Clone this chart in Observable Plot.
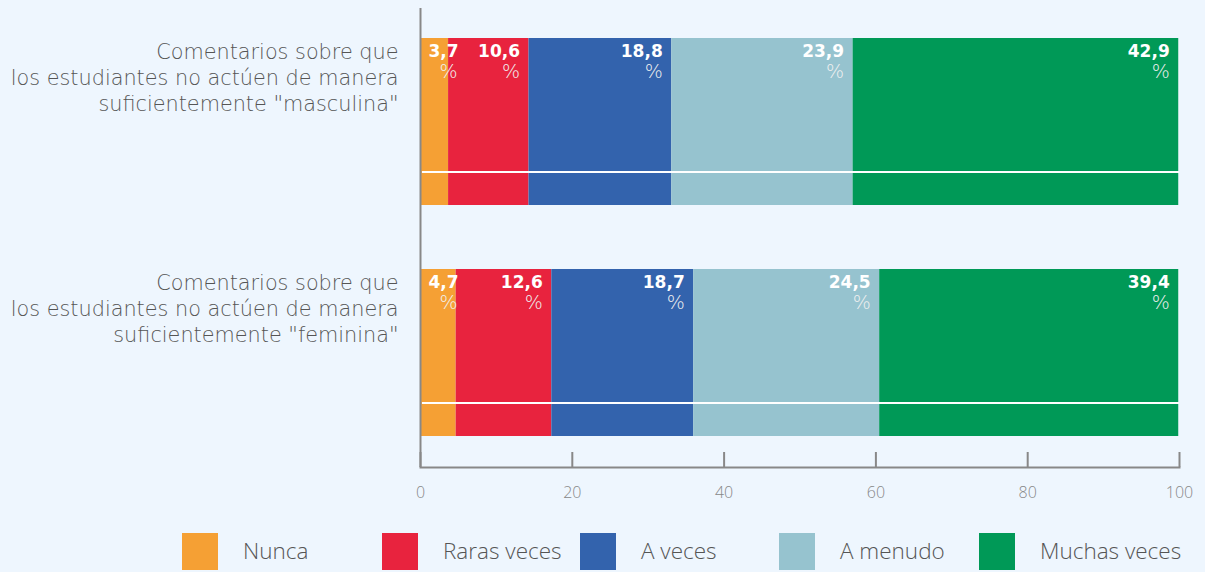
<!DOCTYPE html>
<html>
<head>
<meta charset="utf-8">
<script src="https://cdn.jsdelivr.net/npm/d3@7"></script>
<script src="https://cdn.jsdelivr.net/npm/@observablehq/plot@0.6"></script>
<style>
  html, body { margin: 0; padding: 0; background: #eef6fe; }
  body { width: 1205px; height: 572px; overflow: hidden; position: relative; font-family: "Open Sans", Lato, sans-serif; }
  #chart svg { display: block; background: #eef6fe; }
  #legend { position: absolute; left: 0; top: 533px; width: 1205px; height: 37px; }
  .item { position: absolute; top: 0; height: 37px; display: flex; align-items: center; }
  .sw { width: 36px; height: 37px; }
  .lab { margin-left: 25px; margin-top: -3px; font-family: "Open Sans", sans-serif; font-weight: 300; font-size: 22.5px; color: #555; }
</style>
</head>
<body>
<div id="chart"></div>
<div id="legend"></div>
<script>
const categories = [
  "Comentarios sobre que\nlos estudiantes no actúen de manera\nsuficientemente \"masculina\"",
  "Comentarios sobre que\nlos estudiantes no actúen de manera\nsuficientemente \"feminina\""
];
const responses = ["Nunca", "Raras veces", "A veces", "A menudo", "Muchas veces"];
const colors = ["#f5a034", "#e8233e", "#3363ad", "#96c3cf", "#009957"];
const masculina = [3.7, 10.6, 18.8, 23.9, 42.9];
const feminina = [4.7, 12.6, 18.7, 24.5, 39.4];
const xTicks = [0, 20, 40, 60, 80, 100];

const series = [masculina, feminina];
const data = [];
categories.forEach((c, ci) => {
  let acc = 0;
  responses.forEach((r, ri) => {
    const v = series[ci][ri];
    data.push({cat: c, resp: r, value: v, x1: acc, x2: acc + v, label: v.toFixed(1).replace(".", ",")});
    acc += v;
  });
});
const small = d => d.value < 6;
const numFont = "'DejaVu Sans', sans-serif";

const plot = Plot.plot({
  width: 1205,
  height: 510,
  marginLeft: 420,
  marginRight: 26,
  marginTop: 8,
  marginBottom: 43,
  style: {background: "#eef6fe"},
  x: {domain: [0, 100], ticks: xTicks},
  y: {domain: categories, paddingInner: 0.277, paddingOuter: 0.132, axis: null},
  color: {domain: responses, range: colors},
  marks: [
    Plot.barX(data, {x1: "x1", x2: "x2", y: "cat", fill: "resp"}),
    Plot.barX(categories, {x1: () => 0.25, x2: () => 100, y: d => d, fill: "white", insetTop: 133, insetBottom: 32}),
    // value numbers
    Plot.text(data.filter(d => !small(d)), {x: "x2", y: "cat", text: "label", textAnchor: "end", dx: -9, dy: -70,
      fill: "white", fontWeight: "bold", fontSize: 17, fontFamily: numFont}),
    Plot.text(data.filter(small), {x: "x1", y: "cat", text: "label", textAnchor: "start", dx: 8, dy: -70,
      fill: "white", fontWeight: "bold", fontSize: 17, fontFamily: numFont}),
    // percent signs
    Plot.text(data.filter(d => !small(d)), {x: "x2", y: "cat", text: () => "%", textAnchor: "end", dx: -9, dy: -50,
      fill: "#f0f0f0", fontWeight: 200, fontSize: 19, fontFamily: numFont}),
    Plot.text(data.filter(small), {x: "x1", y: "cat", text: () => "%", textAnchor: "start", dx: 19, dy: -50,
      fill: "#f0f0f0", fontWeight: 200, fontSize: 19, fontFamily: numFont}),
    // category labels
    Plot.text(categories, {x: () => 0, y: d => d, text: d => d, textAnchor: "end", dx: -22, dy: -45,
      lineHeight: 1.25, fontSize: 20.8, fontWeight: 200, fill: "#555", fontFamily: "'DejaVu Sans', sans-serif"}),
    Plot.ruleX([0], {stroke: "#888", strokeWidth: 2}),
    Plot.frame({anchor: "bottom", stroke: "#888", strokeWidth: 2}),
    Plot.axisX({ticks: xTicks, tickSize: -15, tickFormat: () => "", stroke: "#888", strokeWidth: 2}),
    Plot.axisX({ticks: xTicks, tickSize: 0, tickPadding: 19, fontSize: 16, fill: "#888", fontWeight: 300,
      fontFamily: "'Open Sans', sans-serif"})
  ]
});
document.getElementById("chart").appendChild(plot);

const legendLeft = [182, 382, 580, 779, 979];
const legend = document.getElementById("legend");
responses.forEach((r, i) => {
  const item = document.createElement("div");
  item.className = "item";
  item.style.left = legendLeft[i] + "px";
  const sw = document.createElement("div");
  sw.className = "sw";
  sw.style.background = colors[i];
  const lab = document.createElement("span");
  lab.className = "lab";
  lab.textContent = r;
  item.appendChild(sw);
  item.appendChild(lab);
  legend.appendChild(item);
});
</script>
</body>
</html>
